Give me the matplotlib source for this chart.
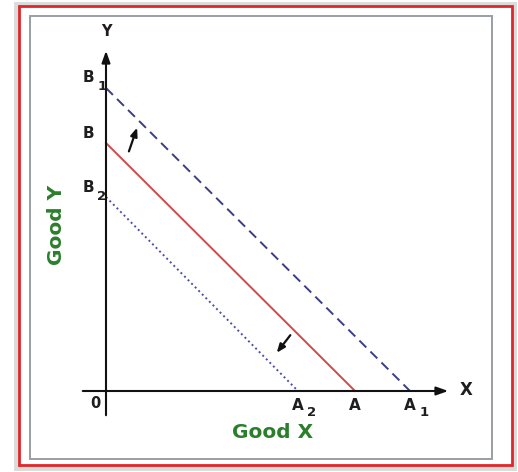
import matplotlib
matplotlib.use("Agg")
import matplotlib.pyplot as plt
from matplotlib.patches import Rectangle

# Budget line intercepts (data units)
lines = ["B1A1", "BA", "B2A2"]
x_intercepts = [304, 249, 192]
y_intercepts = [303, 248, 194]
line_colors = ["#3b3d86", "#cf4a4a", "#4c4fa8"]
line_styles = [(0, (5, 3)), "-", (0, (1, 1.6))]

x_labels = [("A", "1"), ("A", ""), ("A", "2")]
y_labels = [("B", "1"), ("B", ""), ("B", "2")]

W, H = 518, 472
fig = plt.figure(figsize=(W / 100, H / 100), dpi=100)
ax = fig.add_axes([0, 0, 1, 1])
ox, oy = 106, 391
ax.set_xlim(-ox, W - ox)
ax.set_ylim(oy - H, oy)
ax.axis("off")

FONT = "DejaVu Sans"
TXT = "#1e1e1e"
# frames
ax.add_patch(Rectangle((-90, -77), 498, 464, fill=False, ec="#d9dcd9", lw=3.5, zorder=0))
ax.add_patch(Rectangle((-87.5, -74), 493, 459, fill=False, ec="#e0262b", lw=2.0, zorder=1))
ax.add_patch(Rectangle((-76, -68), 462, 443, fill=False, ec="#9a9ea3", lw=1.4, zorder=1))

# axes with arrows
ax.annotate("", xy=(0, 343), xytext=(0, -27),
            arrowprops=dict(arrowstyle="-|>,head_length=0.7,head_width=0.25", color="#111", lw=1.5))
ax.annotate("", xy=(345, 0), xytext=(-26, 0),
            arrowprops=dict(arrowstyle="-|>,head_length=0.7,head_width=0.25", color="#111", lw=1.5))
ax.text(0, 360, "Y", ha="center", va="center", fontsize=10.5, fontweight="bold", family=FONT, color=TXT)
ax.text(360, 1, "X", ha="center", va="center", fontsize=12, fontweight="bold", family=FONT, color=TXT)
ax.text(-11, -13, "0", ha="center", va="center", fontsize=10.5, fontweight="bold", family=FONT, color=TXT)

for xi, yi, c, ls, (xl, xs), (yl, ys) in zip(x_intercepts, y_intercepts, line_colors,
                                              line_styles, x_labels, y_labels):
    ax.plot([0, xi], [yi, 0], color=c, ls=ls, lw=1.4)
    ax.text(xi, -14, xl, ha="center", va="center", fontsize=11, fontweight="bold", family=FONT, color=TXT)
    if xs:
        ax.text(xi + 14, -22, xs, ha="center", va="center", fontsize=9.5, fontweight="bold", family=FONT, color=TXT)
    ax.text(-18, yi + 10, yl, ha="center", va="center", fontsize=11, fontweight="bold", family=FONT, color=TXT)
    if ys:
        ax.text(-4, yi + 1, ys, ha="center", va="center", fontsize=9.5, fontweight="bold", family=FONT, color=TXT)

# shift arrows
ax.annotate("", xy=(32, 266), xytext=(22, 237),
            arrowprops=dict(arrowstyle="-|>,head_length=0.5,head_width=0.2", color="#111", lw=1.6))
ax.annotate("", xy=(169, 36), xytext=(186, 58),
            arrowprops=dict(arrowstyle="-|>,head_length=0.5,head_width=0.2", color="#111", lw=1.6))

ax.text(167, -42, "Good X", ha="center", va="center", fontsize=14.5, fontweight="bold",
        family=FONT, color="#2b7f2b")
ax.text(-50, 166, "Good Y", ha="center", va="center", rotation=90, fontsize=14.5,
        fontweight="bold", family=FONT, color="#2b7f2b")

fig.savefig("out.png", dpi=100, facecolor="white")
